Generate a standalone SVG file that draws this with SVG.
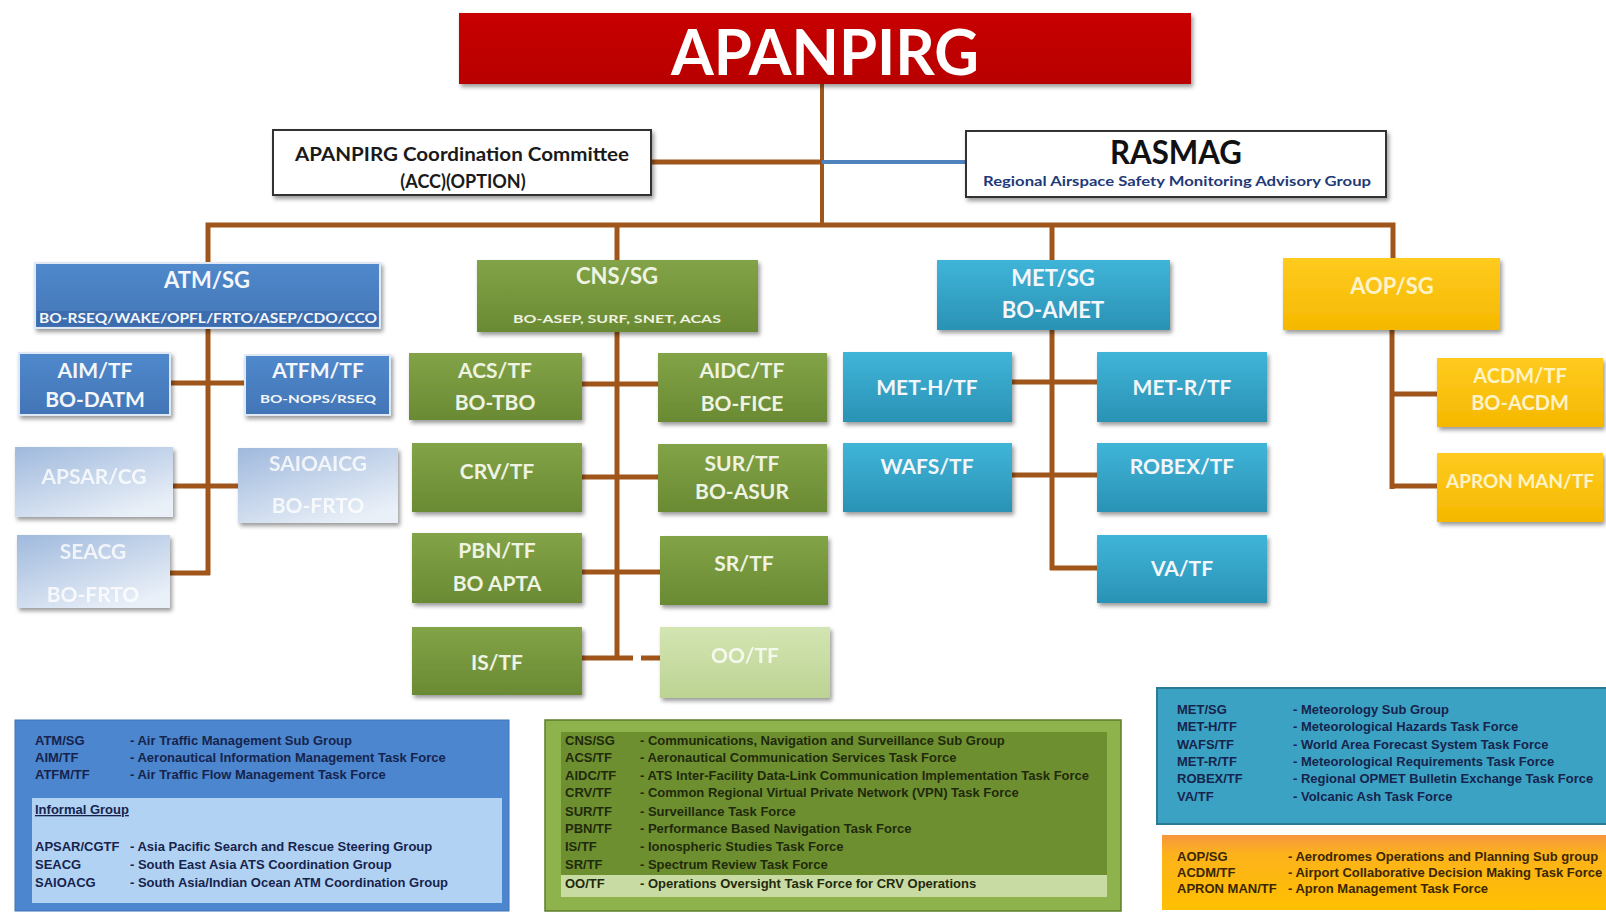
<svg xmlns="http://www.w3.org/2000/svg" width="1606" height="913" viewBox="0 0 1606 913">
<style>
.c{stroke:#a0561b;stroke-width:5;fill:none}
.cb{stroke:#4f81bd;stroke-width:4;fill:none}
.nt{font-family:Lato,"Liberation Sans",sans-serif;font-weight:bold;text-anchor:middle}
.w{fill:#f3f6fa}
.g{fill:#eef3e2}
.y{fill:#fff3c8}
.f{fill:#ffffff;opacity:.8}
.lg{font-family:"Liberation Sans",Arial,sans-serif;font-weight:bold;font-size:13px}
.dn{fill:#16244d}
.dg{fill:#1f2a0c}
.dy{fill:#3a2600}
</style>
<defs>
<filter id="sh" x="-10%" y="-20%" width="125%" height="150%"><feDropShadow dx="2" dy="3" stdDeviation="2" flood-color="#000" flood-opacity="0.4"/></filter>
<linearGradient id="gBlue" x1="0" y1="0" x2="0" y2="1"><stop offset="0" stop-color="#5089cc"/><stop offset="1" stop-color="#4275b6"/></linearGradient>
<linearGradient id="gFade" x1="0" y1="0" x2="0.7" y2="1"><stop offset="0" stop-color="#9fb9dd"/><stop offset="1" stop-color="#eaf0f8"/></linearGradient>
<linearGradient id="gGreen" x1="0" y1="0" x2="0" y2="1"><stop offset="0" stop-color="#83a348"/><stop offset="1" stop-color="#6a8a33"/></linearGradient>
<linearGradient id="gOO" x1="0" y1="0" x2="0" y2="1"><stop offset="0" stop-color="#d3e5b2"/><stop offset="1" stop-color="#bcd393"/></linearGradient>
<linearGradient id="gTeal" x1="0" y1="0" x2="0" y2="1"><stop offset="0" stop-color="#3fb5d8"/><stop offset="1" stop-color="#2a92b5"/></linearGradient>
<linearGradient id="gYel" x1="0" y1="0" x2="0" y2="1"><stop offset="0" stop-color="#ffcb1f"/><stop offset="1" stop-color="#f5b800"/></linearGradient>
<linearGradient id="gAop" x1="0" y1="0" x2="0" y2="1"><stop offset="0" stop-color="#f7963f"/><stop offset="0.25" stop-color="#fcb21c"/><stop offset="1" stop-color="#ffc000"/></linearGradient>
<linearGradient id="gRed" x1="0" y1="0" x2="0" y2="1"><stop offset="0" stop-color="#c80000"/><stop offset="1" stop-color="#b80000"/></linearGradient>
</defs>
<rect width="1606" height="913" fill="#ffffff"/>

<g id="connectors">
<path class="c" d="M822 84V225" style="stroke-width:4"/>
<path class="c" d="M651 162H822"/>
<path class="cb" d="M822 162H966"/>
<path class="c" d="M208 263V225H1393V258M617 225V260M1052 225V260"/>
<path class="c" d="M208 328V575M170 383H245M173 486H238M170 573H210"/>
<path class="c" d="M617 332V660M582 384H658M582 477H658M582 572H660M582 658H633M641 658H660"/>
<path class="c" d="M1052 330V570M1012 382H1097M1012 475H1097M1050 568H1097"/>
<path class="c" d="M1392 330V489M1392 394H1437M1390 486H1437"/>
</g>

<g id="apanpirg">
<rect x="459" y="13" width="732" height="71" fill="url(#gRed)" filter="url(#sh)"/>
<text class="nt" x="825" y="75" font-size="63" fill="#ffffff" textLength="308" lengthAdjust="spacingAndGlyphs">APANPIRG</text>
</g>

<g id="acc">
<rect x="273" y="130" width="378" height="65" fill="#ffffff" stroke="#333" stroke-width="2" filter="url(#sh)"/>
<text class="nt" x="462" y="161" font-size="18" fill="#1a1a1a" textLength="334" lengthAdjust="spacingAndGlyphs">APANPIRG Coordination Committee</text>
<text class="nt" x="463" y="188" font-size="18" fill="#1a1a1a">(ACC)(OPTION)</text>
</g>

<g id="rasmag">
<rect x="966" y="131" width="420" height="66" fill="#ffffff" stroke="#333" stroke-width="2" filter="url(#sh)"/>
<text class="nt" x="1176" y="164" font-size="32" fill="#111" textLength="132" lengthAdjust="spacingAndGlyphs">RASMAG</text>
<text class="nt" x="1177" y="186" font-size="13" fill="#1f3a78" textLength="388" lengthAdjust="spacingAndGlyphs">Regional Airspace Safety Monitoring Advisory Group</text>
</g>

<g id="atm-sg">
<rect x="35" y="263" width="345" height="65" fill="url(#gBlue)" stroke="#dfe8f4" stroke-width="2" filter="url(#sh)"/>
<rect x="37" y="311" width="341" height="15" fill="#3d6cae"/>
<text class="nt w" x="207" y="288" font-size="22">ATM/SG</text>
<text class="nt w" x="208" y="323" font-size="13" textLength="338" lengthAdjust="spacingAndGlyphs">BO-RSEQ/WAKE/OPFL/FRTO/ASEP/CDO/CCO</text>
</g>
<g id="aim-tf">
<rect x="19" y="353" width="151" height="62" fill="url(#gBlue)" stroke="#dfe8f4" stroke-width="2" filter="url(#sh)"/>
<text class="nt w" x="95" y="378" font-size="21">AIM/TF</text>
<text class="nt w" x="95" y="407" font-size="21">BO-DATM</text>
</g>
<g id="atfm-tf">
<rect x="245" y="355" width="145" height="60" fill="url(#gBlue)" stroke="#dfe8f4" stroke-width="2" filter="url(#sh)"/>
<text class="nt w" x="318" y="378" font-size="21">ATFM/TF</text>
<text class="nt w" x="318" y="403" font-size="12" textLength="116" lengthAdjust="spacingAndGlyphs">BO-NOPS/RSEQ</text>
</g>
<g id="apsar-cg">
<rect x="15" y="447" width="158" height="70" fill="url(#gFade)" filter="url(#sh)"/>
<text class="nt f" x="94" y="484" font-size="21">APSAR/CG</text>
</g>
<g id="saioaicg">
<rect x="238" y="448" width="160" height="75" fill="url(#gFade)" filter="url(#sh)"/>
<text class="nt f" x="318" y="471" font-size="21">SAIOAICG</text>
<text class="nt f" x="318" y="513" font-size="21">BO-FRTO</text>
</g>
<g id="seacg">
<rect x="17" y="535" width="153" height="73" fill="url(#gFade)" filter="url(#sh)"/>
<text class="nt f" x="93" y="559" font-size="21">SEACG</text>
<text class="nt f" x="93" y="602" font-size="21">BO-FRTO</text>
</g>

<g id="cns-sg">
<rect x="477" y="260" width="281" height="72" fill="url(#gGreen)" filter="url(#sh)"/>
<text class="nt g" x="617" y="284" font-size="22">CNS/SG</text>
<text class="nt g" x="617" y="323" font-size="12" textLength="208" lengthAdjust="spacingAndGlyphs">BO-ASEP, SURF, SNET, ACAS</text>
</g>
<g id="acs-tf">
<rect x="409" y="353" width="173" height="67" fill="url(#gGreen)" filter="url(#sh)"/>
<text class="nt g" x="495" y="378" font-size="21">ACS/TF</text>
<text class="nt g" x="495" y="410" font-size="21">BO-TBO</text>
</g>
<g id="aidc-tf">
<rect x="658" y="353" width="169" height="69" fill="url(#gGreen)" filter="url(#sh)"/>
<text class="nt g" x="742" y="378" font-size="21">AIDC/TF</text>
<text class="nt g" x="742" y="411" font-size="21">BO-FICE</text>
</g>
<g id="crv-tf">
<rect x="412" y="443" width="170" height="69" fill="url(#gGreen)" filter="url(#sh)"/>
<text class="nt g" x="497" y="479" font-size="21">CRV/TF</text>
</g>
<g id="sur-tf">
<rect x="658" y="444" width="169" height="68" fill="url(#gGreen)" filter="url(#sh)"/>
<text class="nt g" x="742" y="471" font-size="21">SUR/TF</text>
<text class="nt g" x="742" y="499" font-size="21">BO-ASUR</text>
</g>
<g id="pbn-tf">
<rect x="412" y="533" width="170" height="70" fill="url(#gGreen)" filter="url(#sh)"/>
<text class="nt g" x="497" y="558" font-size="21">PBN/TF</text>
<text class="nt g" x="497" y="591" font-size="21">BO APTA</text>
</g>
<g id="sr-tf">
<rect x="660" y="536" width="168" height="69" fill="url(#gGreen)" filter="url(#sh)"/>
<text class="nt g" x="744" y="571" font-size="21">SR/TF</text>
</g>
<g id="is-tf">
<rect x="412" y="627" width="170" height="68" fill="url(#gGreen)" filter="url(#sh)"/>
<text class="nt g" x="497" y="670" font-size="21">IS/TF</text>
</g>
<g id="oo-tf">
<rect x="660" y="627" width="170" height="71" fill="url(#gOO)" filter="url(#sh)"/>
<text class="nt f" x="745" y="663" font-size="21">OO/TF</text>
</g>

<g id="met-sg">
<rect x="937" y="260" width="233" height="70" fill="url(#gTeal)" filter="url(#sh)"/>
<text class="nt w" x="1053" y="286" font-size="22">MET/SG</text>
<text class="nt w" x="1053" y="318" font-size="22">BO-AMET</text>
</g>
<g id="met-h-tf">
<rect x="843" y="352" width="169" height="70" fill="url(#gTeal)" filter="url(#sh)"/>
<text class="nt w" x="927" y="395" font-size="21">MET-H/TF</text>
</g>
<g id="met-r-tf">
<rect x="1097" y="352" width="170" height="70" fill="url(#gTeal)" filter="url(#sh)"/>
<text class="nt w" x="1182" y="395" font-size="21">MET-R/TF</text>
</g>
<g id="wafs-tf">
<rect x="843" y="443" width="169" height="69" fill="url(#gTeal)" filter="url(#sh)"/>
<text class="nt w" x="927" y="474" font-size="21">WAFS/TF</text>
</g>
<g id="robex-tf">
<rect x="1097" y="443" width="170" height="69" fill="url(#gTeal)" filter="url(#sh)"/>
<text class="nt w" x="1182" y="474" font-size="21">ROBEX/TF</text>
</g>
<g id="va-tf">
<rect x="1097" y="535" width="170" height="68" fill="url(#gTeal)" filter="url(#sh)"/>
<text class="nt w" x="1182" y="576" font-size="21">VA/TF</text>
</g>

<g id="aop-sg">
<rect x="1283" y="258" width="217" height="72" fill="url(#gYel)" filter="url(#sh)"/>
<text class="nt y" x="1392" y="294" font-size="22">AOP/SG</text>
</g>
<g id="acdm-tf">
<rect x="1437" y="358" width="166" height="69" fill="url(#gYel)" filter="url(#sh)"/>
<text class="nt y" x="1520" y="383" font-size="20">ACDM/TF</text>
<text class="nt y" x="1520" y="410" font-size="20">BO-ACDM</text>
</g>
<g id="apron-man-tf">
<rect x="1437" y="453" width="166" height="69" fill="url(#gYel)" filter="url(#sh)"/>
<text class="nt y" x="1520" y="488" font-size="18" textLength="148" lengthAdjust="spacingAndGlyphs">APRON MAN/TF</text>
</g>

<g id="legend-atm">
<rect x="15" y="720" width="494" height="191" fill="#4c86cf" stroke="#3f73b6" stroke-width="1"/>
<rect x="32" y="798" width="470" height="105" fill="#b2d2f4"/>
<g class="lg dn">
<text x="35" y="745">ATM/SG</text><text x="130" y="745">- Air Traffic Management Sub Group</text>
<text x="35" y="762">AIM/TF</text><text x="130" y="762">- Aeronautical Information Management Task Force</text>
<text x="35" y="779">ATFM/TF</text><text x="130" y="779">- Air Traffic Flow Management Task Force</text>
<text x="35" y="814" text-decoration="underline">Informal Group</text>
<text x="35" y="851">APSAR/CGTF</text><text x="130" y="851">- Asia Pacific Search and Rescue Steering Group</text>
<text x="35" y="869">SEACG</text><text x="130" y="869">- South East Asia ATS Coordination Group</text>
<text x="35" y="887">SAIOACG</text><text x="130" y="887">- South Asia/Indian Ocean ATM Coordination Group</text>
</g>
</g>

<g id="legend-cns">
<rect x="545" y="720" width="576" height="191" fill="#8fb34c" stroke="#5d7d28" stroke-width="1.5"/>
<rect x="561" y="732" width="546" height="143" fill="#6e8f30"/>
<rect x="561" y="875" width="546" height="22" fill="#c8dba2"/>
<g class="lg dg">
<text x="565" y="745">CNS/SG</text><text x="640" y="745">- Communications, Navigation and Surveillance Sub Group</text>
<text x="565" y="762">ACS/TF</text><text x="640" y="762">- Aeronautical Communication Services Task Force</text>
<text x="565" y="780">AIDC/TF</text><text x="640" y="780">- ATS Inter-Facility Data-Link Communication Implementation Task Force</text>
<text x="565" y="797">CRV/TF</text><text x="640" y="797">- Common Regional Virtual Private Network (VPN) Task Force</text>
<text x="565" y="816">SUR/TF</text><text x="640" y="816">- Surveillance Task Force</text>
<text x="565" y="833">PBN/TF</text><text x="640" y="833">- Performance Based Navigation Task Force</text>
<text x="565" y="851">IS/TF</text><text x="640" y="851">- Ionospheric Studies Task Force</text>
<text x="565" y="869">SR/TF</text><text x="640" y="869">- Spectrum Review Task Force</text>
<text x="565" y="888">OO/TF</text><text x="640" y="888">- Operations Oversight Task Force for CRV Operations</text>
</g>
</g>

<g id="legend-met">
<rect x="1157" y="688" width="452" height="136" fill="#3ca2c3" stroke="#2a7a96" stroke-width="2"/>
<g class="lg dn">
<text x="1177" y="714">MET/SG</text><text x="1293" y="714">- Meteorology Sub Group</text>
<text x="1177" y="731">MET-H/TF</text><text x="1293" y="731">- Meteorological Hazards Task Force</text>
<text x="1177" y="749">WAFS/TF</text><text x="1293" y="749">- World Area Forecast System Task Force</text>
<text x="1177" y="766">MET-R/TF</text><text x="1293" y="766">- Meteorological Requirements Task Force</text>
<text x="1177" y="783">ROBEX/TF</text><text x="1293" y="783">- Regional OPMET Bulletin Exchange Task Force</text>
<text x="1177" y="801">VA/TF</text><text x="1293" y="801">- Volcanic Ash Task Force</text>
</g>
</g>

<g id="legend-aop">
<rect x="1162" y="835" width="447" height="75" fill="url(#gAop)"/>
<g class="lg dy">
<text x="1177" y="861">AOP/SG</text><text x="1288" y="861">- Aerodromes Operations and Planning Sub group</text>
<text x="1177" y="877">ACDM/TF</text><text x="1288" y="877">- Airport Collaborative Decision Making Task Force</text>
<text x="1177" y="893">APRON MAN/TF</text><text x="1288" y="893">- Apron Management Task Force</text>
</g>
</g>
</svg>
